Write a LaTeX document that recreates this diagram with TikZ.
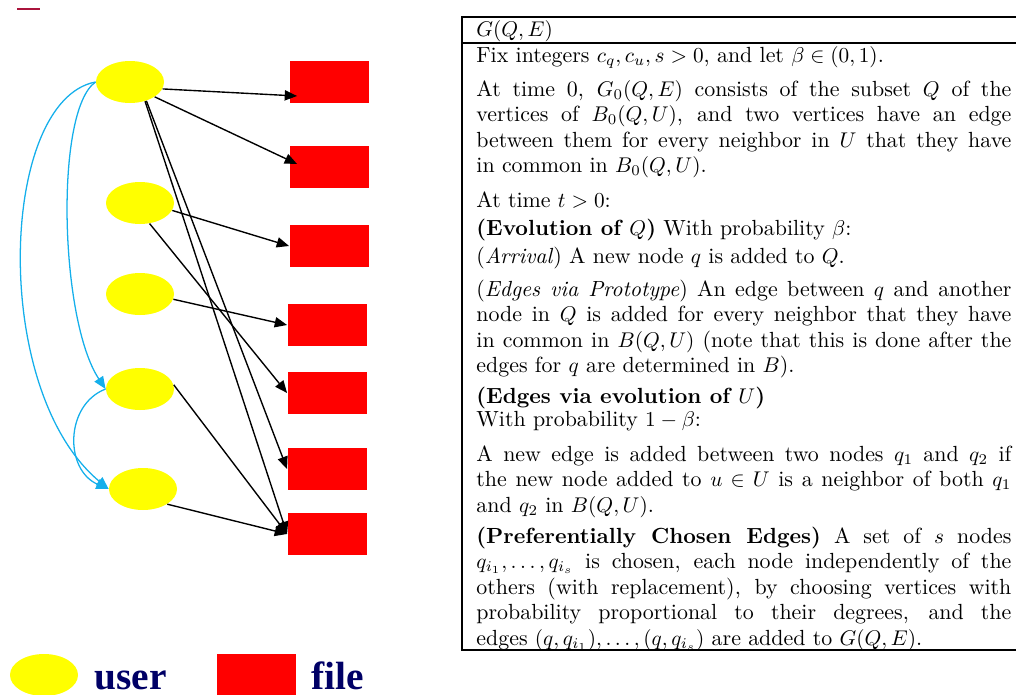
\documentclass[tikz,border=0pt]{standalone}
\usepackage{amsmath,amssymb}
\usepackage{fontspec}
\newfontfamily\legendfont{Liberation Serif}
\usetikzlibrary{arrows.meta,positioning,calc,shapes.geometric}
\definecolor{userfill}{RGB}{255,255,0}
\definecolor{filefill}{RGB}{255,0,0}
\definecolor{linkcyan}{RGB}{20,175,235}
\definecolor{legendnavy}{RGB}{0,0,102}
\definecolor{markred}{RGB}{170,20,60}
\newlength{\px}
\setlength{\px}{0.47pt}
\tikzset{
  userdisk/.style={ellipse, fill=userfill, minimum width=68\px, minimum height=42\px, inner sep=0pt},
  filebox/.style={rectangle, fill=filefill, minimum width=79\px, minimum height=42\px, inner sep=0pt},
  link/.style={-{Triangle[length=5.8pt,width=4.8pt]}, black, line width=0.65pt},
  share/.style={-{Triangle[length=5.8pt,width=4.8pt]}, linkcyan, line width=0.6pt},
  boxrule/.style={black, line width=1.1pt},
  para/.style={anchor=base west, text width=535\px, align=justify, inner sep=0pt, font=\fontsize{10.3}{12}\selectfont},
  legendtext/.style={anchor=base west, inner sep=0pt, text=legendnavy, font=\legendfont\bfseries\fontsize{18.5}{20}\selectfont},
}
\begin{document}
\begin{tikzpicture}[x=0.47pt, y=-0.47pt]
  \useasboundingbox (0,0) rectangle (1016,695);
  % --- users and files
  \draw[markred, line width=0.9pt] (17,9) -- (40,9);
  \node[userdisk] (u1) at (130,82) {};
  \node[userdisk] (u2) at (140,203) {};
  \node[userdisk] (u3) at (140,294) {};
  \node[userdisk] (u4) at (140,389) {};
  \node[userdisk] (u5) at (143,489) {};
  \node[filebox] (f1) at (329,82) {};
  \node[filebox] (f2) at (329,167) {};
  \node[filebox] (f3) at (329,246) {};
  \node[filebox] (f4) at (327,325) {};
  \node[filebox] (f5) at (327,393) {};
  \node[filebox] (f6) at (327,469) {};
  \node[filebox] (f7) at (327,534) {};
  % --- downloads
  \draw[link] (u1.-12) -- ($(f1.west)+(8,14)$);
  \draw[link] (u1.-31) -- ($(f2.west)+(8,-3)$);
  \draw[link] (u1.-49) -- (f6.west);
  \draw[link] (u1.-52) -- (f7.west);
  \draw[link] (u2.-13) -- (f3.west);
  \draw[link] (u2.-65) -- (f5.west);
  \draw[link] (u3.-9) -- (f4.west);
  \draw[link] (u4.7) -- (f7.west);
  \draw[link] (u5.-32) -- (f7.west);
  % --- user to user
  \draw[share] (u1.west) .. controls +(-96,18) and +(-119,-99) .. (u5.west);
  \draw[share] (u1.west) .. controls +(-41,28) and +(-46,-69) .. (u4.west);
  \draw[share] (u4.west) .. controls +(-41,16) and +(-44,-19) .. (u5.west);
  % --- legend
  \node[userdisk] (keyuser) at (44,675) {};
  \node[legendtext] (keyusertext) at (94,689) {user};
  \node[filebox] (keyfile) at (256,675) {};
  \node[legendtext] (keyfiletext) at (311,689) {file};
  % --- model box
  \draw[boxrule] (1016,17) -- (462,17) -- (462,650) -- (1016,650);
  \draw[boxrule] (462,43) -- (1016,43);
  \node[para] (head) at (476,36) {$G(Q,E)$};
  \node[para] (p1) at (476,62) {Fix integers $c_q, c_u, s > 0$, and let $\beta \in (0,1)$.};
  \node[para] (p2) at (476,96) {At time 0, $G_0(Q,E)$ consists of the subset $Q$ of the\linebreak
    vertices of $B_0(Q,U)$, and two vertices have an edge\linebreak
    between them for every neighbor in $U$ that they have\linebreak
    in common in $B_0(Q,U)$.};
  \node[para] (p3) at (476,207) {At time $t > 0$:};
  \node[para] (p4) at (476,235) {\textbf{(Evolution of $Q$)} With probability $\beta$:};
  \node[para] (p5) at (476,263) {(\emph{Arrival}) A new node $q$ is added to $Q$.};
  \node[para] (p6) at (476,296) {(\emph{Edges via Prototype}) An edge between $q$ and another\linebreak
    node in $Q$ is added for every neighbor that they have\linebreak
    in common in $B(Q,U)$ (note that this is done after the\linebreak
    edges for $q$ are determined in $B$).};
  \node[para] (p7) at (476,403) {\textbf{(Edges via evolution of $U$)}\\[-1pt]
    With probability $1-\beta$:};
  \node[para] (p8) at (476,461) {A new edge is added between two nodes $q_1$ and $q_2$ if\linebreak
    the new node added to $u \in U$ is a neighbor of both $q_1$\linebreak
    and $q_2$ in $B(Q,U)$.};
  \node[para] (p9) at (476,543) {\textbf{(Preferentially Chosen Edges)} A set of $s$ nodes\linebreak
    $q_{i_1},\ldots,q_{i_s}$ is chosen, each node independently of the\linebreak
    others (with replacement), by choosing vertices with\linebreak
    probability proportional to their degrees, and the\linebreak
    edges $(q,q_{i_1}),\ldots,(q,q_{i_s})$ are added to $G(Q,E)$.};
\end{tikzpicture}
\end{document}
